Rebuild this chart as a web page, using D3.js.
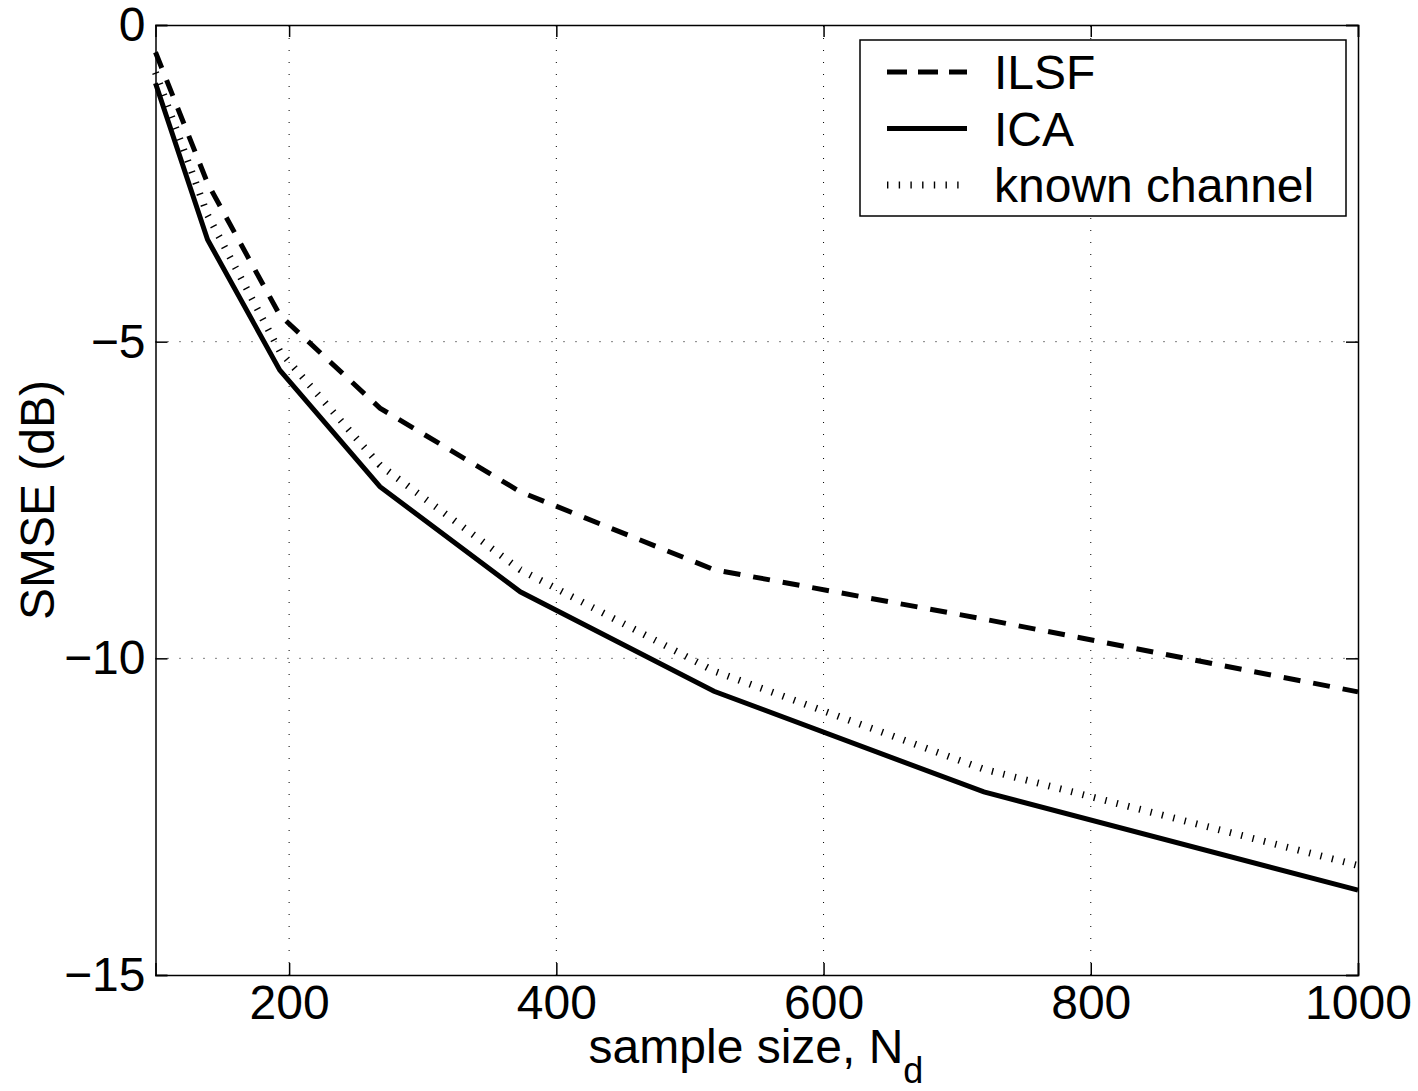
<!DOCTYPE html>
<html>
<head>
  <meta charset="utf-8" />
  <style>
    body { margin: 0; background: #fff; }
    text { font-family: "Liberation Sans", Arial, Helvetica, sans-serif; fill: #000; }
    .grid line { stroke: #000; stroke-width: 1; stroke-dasharray: 1,11; }
    .series { fill: none; stroke: #000; }
  </style>
</head>
<body>
  <svg id="container" width="1418" height="1091"></svg>
  <script src="https://cdn.jsdelivr.net/npm/d3@7/dist/d3.min.js"></script>
<script>
// sample sizes (x)
var sampleSize = [100, 139, 193, 268, 373, 518, 720, 1000];
// SMSE in dB for each method
var ilsf = [-0.43, -2.5, -4.58, -6.05, -7.37, -8.6, -9.38, -10.53];
var ica = [-0.92, -3.39, -5.45, -7.29, -8.95, -10.52, -12.11, -13.66];
var knownChannel = [-0.75, -3.0, -5.15, -6.95, -8.6, -10.2, -11.75, -13.27];

var xTicks = [200, 400, 600, 800, 1000];
var yTicks = [0, -5, -10, -15];
var legendLabels = ['ILSF', 'ICA', 'known channel'];

var margin = {left: 155.5, right: 1358, top: 25, bottom: 975};
var svg = d3.select('#container');

var x = d3.scaleLinear().domain([100, 1000]).range([margin.left, margin.right]);
var y = d3.scaleLinear().domain([-15, 0]).range([margin.bottom, margin.top]);

var styles = [
  {width: 5, dash: '17,13'},
  {width: 5, dash: null},
  {width: 7, dash: '1.4,10.3'}
];

// grid
var grid = svg.append('g').attr('class', 'grid');
grid.selectAll('.vx').data(xTicks.filter(function (d) { return d < 1000; }))
  .enter().append('line')
  .attr('x1', function (d) { return x(d); }).attr('x2', function (d) { return x(d); })
  .attr('y1', margin.bottom).attr('y2', margin.top);
grid.selectAll('.hy').data(yTicks.filter(function (d) { return d > -15 && d < 0; }))
  .enter().append('line')
  .attr('y1', function (d) { return y(d); }).attr('y2', function (d) { return y(d); })
  .attr('x1', margin.left).attr('x2', margin.right);

// series
var line = d3.line()
  .x(function (d) { return x(d[0]); })
  .y(function (d) { return y(d[1]); });

[ilsf, ica, knownChannel].forEach(function (vals, i) {
  var pts = sampleSize.map(function (s, j) { return [s, vals[j]]; });
  svg.append('path')
    .datum(pts)
    .attr('class', 'series')
    .attr('d', line)
    .attr('stroke-width', styles[i].width)
    .attr('stroke-dasharray', styles[i].dash);
});

// axes (box with ticks inward on all sides)
var tickLen = 12;
var fontSize = 48;
var axB = d3.axisBottom(x).tickValues(xTicks).tickSize(-tickLen).tickPadding(10).tickFormat(d3.format('d'));
var axT = d3.axisTop(x).tickValues(xTicks).tickSize(-tickLen).tickFormat('');
var axL = d3.axisLeft(y).tickValues(yTicks).tickSize(-tickLen).tickPadding(10)
  .tickFormat(function (d) { return d < 0 ? '\u2212' + Math.abs(d) : d; });
var axR = d3.axisRight(y).tickValues(yTicks).tickSize(-tickLen).tickFormat('');

function styleAxis(g) {
  g.select('.domain').attr('stroke', '#000').attr('stroke-width', 1.5);
  g.selectAll('.tick line').attr('stroke', '#000').attr('stroke-width', 1.5);
  g.selectAll('.tick text').attr('font-size', fontSize).attr('font-family', null).attr('fill', '#000');
}
svg.append('g').attr('transform', 'translate(0,' + margin.bottom + ')').call(axB).call(styleAxis);
svg.append('g').attr('transform', 'translate(0,' + margin.top + ')').call(axT).call(styleAxis);
svg.append('g').attr('transform', 'translate(' + margin.left + ',0)').call(axL).call(styleAxis);
svg.append('g').attr('transform', 'translate(' + margin.right + ',0)').call(axR).call(styleAxis);

// axis labels
var xl = svg.append('text')
  .attr('x', 756).attr('y', 1063)
  .attr('text-anchor', 'middle')
  .attr('font-size', fontSize);
xl.append('tspan').text('sample size, N');
xl.append('tspan').attr('dy', 20).attr('font-size', 36).text('d');

svg.append('text')
  .attr('transform', 'translate(54,500) rotate(-90)')
  .attr('text-anchor', 'middle')
  .attr('font-size', fontSize)
  .text('SMSE (dB)');

// legend
var lg = svg.append('g');
lg.append('rect')
  .attr('x', 860).attr('y', 40).attr('width', 486).attr('height', 176)
  .attr('fill', '#fff').attr('stroke', '#000').attr('stroke-width', 1.5);
legendLabels.forEach(function (lab, i) {
  var ly = 72 + i * 56.5;
  lg.append('line')
    .attr('x1', 887).attr('x2', 967).attr('y1', ly).attr('y2', ly)
    .attr('stroke', '#000')
    .attr('stroke-width', styles[i].width)
    .attr('stroke-dasharray', i === 0 ? '20,11' : styles[i].dash);
  lg.append('text')
    .attr('x', 994).attr('y', ly + 17)
    .attr('font-size', fontSize)
    .text(lab);
});
</script>
</body>
</html>
